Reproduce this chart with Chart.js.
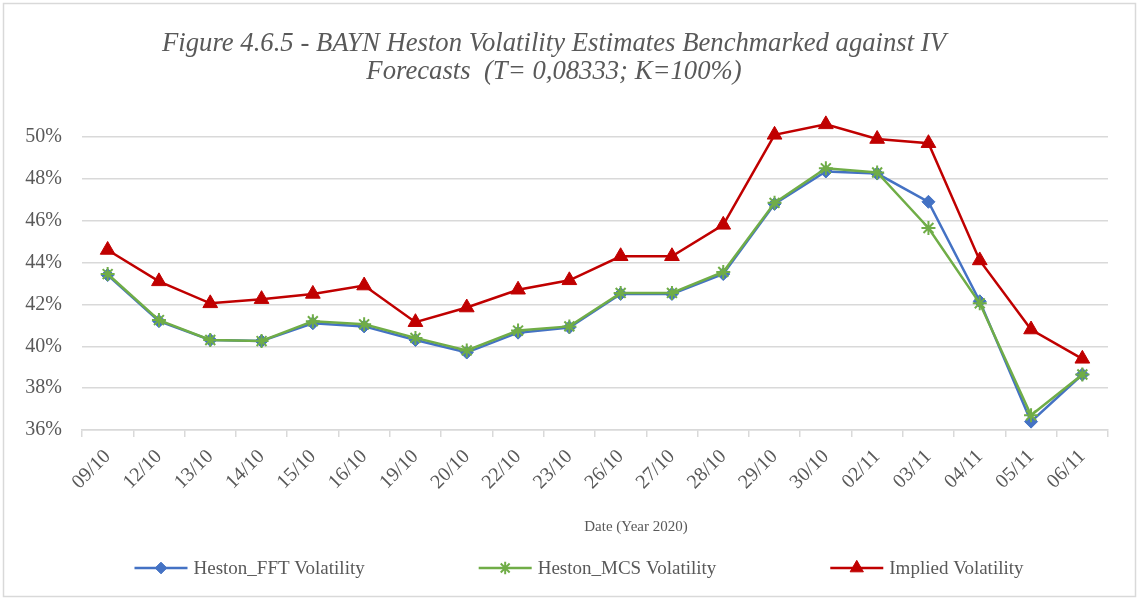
<!DOCTYPE html>
<html>
<head>
<meta charset="utf-8">
<script src="https://cdn.jsdelivr.net/npm/chart.js@4.4.1/dist/chart.umd.min.js"></script>
<style>
  html, body { margin: 0; padding: 0; background: #fff; }
  canvas { display: block; }
</style>
</head>
<body>
<canvas id="chart" width="1137" height="599"></canvas>
<script>
  // data (percent)
  var dates = ['09/10', '12/10', '13/10', '14/10', '15/10', '16/10', '19/10', '20/10', '22/10', '23/10',
               '26/10', '27/10', '28/10', '29/10', '30/10', '02/11', '03/11', '04/11', '05/11', '06/11'];
  var fftVol = [43.4, 41.2, 40.3, 40.25, 41.1, 40.95, 40.3, 39.7, 40.65, 40.9,
                42.5, 42.5, 43.45, 46.8, 48.35, 48.25, 46.9, 42.15, 36.4, 38.65];
  var mcsVol = [43.45, 41.25, 40.3, 40.25, 41.2, 41.05, 40.4, 39.8, 40.75, 40.95,
                42.55, 42.55, 43.55, 46.85, 48.5, 48.3, 45.65, 42.05, 36.7, 38.65];
  var impliedVol = [44.6, 43.1, 42.05, 42.25, 42.5, 42.9, 41.15, 41.85, 42.7, 43.15,
                    44.3, 44.3, 45.8, 50.1, 50.6, 49.9, 49.7, 44.1, 40.8, 39.4];
  var yTicks = [36, 38, 40, 42, 44, 46, 48, 50];
  var xTitle = 'Date (Year 2020)';

  var SERIF = "'Liberation Serif', 'Times New Roman', serif";
  var GREY = '#595959';
  var GRID = '#d9d9d9';

  // frame, x-axis title and legend drawn by hand to keep the Excel layout
  var excelBits = {
    id: 'excelBits',
    afterDraw: function (chart) {
      var ctx = chart.ctx;
      var sets = chart.data.datasets;
      ctx.save();

      ctx.strokeStyle = GRID;
      ctx.lineWidth = 1.5;
      ctx.strokeRect(3.5, 3.5, chart.width - 5, chart.height - 6);

      ctx.fillStyle = GREY;
      ctx.font = '15px ' + SERIF;
      ctx.textAlign = 'center';
      ctx.textBaseline = 'middle';
      ctx.fillText(xTitle, 636, 527);

      var gap = 114, seg = 53, textGap = 6;
      ctx.font = '19px ' + SERIF;
      var widths = sets.map(function (ds) { return seg + textGap + ctx.measureText(ds.label).width; });
      var total = widths.reduce(function (a, b) { return a + b; }, 0) + gap * (sets.length - 1);
      var x = 579 - total / 2;
      var y = 568;
      sets.forEach(function (ds, i) {
        ctx.strokeStyle = ds.borderColor;
        ctx.fillStyle = ds.borderColor;
        ctx.lineWidth = 2.5;
        ctx.beginPath();
        ctx.moveTo(x, y);
        ctx.lineTo(x + seg, y);
        ctx.stroke();
        ctx.lineWidth = ds.pointBorderWidth;
        Chart.helpers.drawPoint(ctx, {
          pointStyle: ds.pointStyle,
          radius: ds.pointRadius * 0.9,
          borderWidth: ds.pointBorderWidth,
          rotation: 0
        }, x + seg / 2, y);
        ctx.fillStyle = GREY;
        ctx.textAlign = 'left';
        ctx.fillText(ds.label, x + seg + textGap, y + 1);
        x += widths[i] + gap;
      });
      ctx.restore();
    }
  };

  function series(label, data, color, style, radius, order) {
    return {
      label: label,
      data: data,
      borderColor: color,
      backgroundColor: color,
      borderWidth: 2.5,
      pointStyle: style,
      pointRadius: radius,
      pointHoverRadius: radius,
      pointBackgroundColor: color,
      pointBorderColor: color,
      pointBorderWidth: style === 'star' ? 2 : 1,
      tension: 0,
      clip: false,
      order: order
    };
  }

  var chart = new Chart(document.getElementById('chart'), {
    type: 'line',
    data: {
      labels: dates,
      datasets: [
        series('Heston_FFT Volatility', fftVol, '#4472c4', 'rectRot', 6.5, 2),
        series('Heston_MCS Volatility', mcsVol, '#70ad47', 'star', 7, 1),
        series('Implied Volatility', impliedVol, '#c00000', 'triangle', 8.5, 0)
      ]
    },
    options: {
      responsive: false,
      animation: false,
      layout: { padding: { left: 0, right: 29, top: 0, bottom: 49 } },
      plugins: {
        legend: { display: false },
        tooltip: { enabled: false },
        title: {
          display: true,
          text: ['Figure 4.6.5 - BAYN Heston Volatility Estimates Benchmarked against IV',
                 'Forecasts  (T= 0,08333; K=100%)'],
          color: GREY,
          font: { family: SERIF, size: 26.7, style: 'italic', weight: 'normal', lineHeight: '28px' },
          padding: { top: 30, bottom: 30 }
        }
      },
      scales: {
        x: {
          offset: true,
          grid: { offset: true, drawOnChartArea: false, drawTicks: true, tickLength: 7, color: GRID, lineWidth: 1.5 },
          border: { color: GRID, width: 1.5 },
          ticks: {
            color: GREY,
            font: { family: SERIF, size: 20 },
            maxRotation: 45,
            minRotation: 45,
            autoSkip: false,
            padding: 8
          },
          afterFit: function (scale) { scale.height = 120; }
        },
        y: {
          // a little head-room above the top gridline so the 30/10 peak stays visible
          min: yTicks[0],
          max: 51,
          afterBuildTicks: function (scale) {
            scale.ticks = yTicks.map(function (v) { return { value: v }; });
          },
          grid: { color: GRID, lineWidth: 1.5, drawTicks: false },
          border: { display: false },
          ticks: {
            color: GREY,
            font: { family: SERIF, size: 20 },
            padding: 20,
            callback: function (v) { return v + '%'; }
          },
          afterFit: function (scale) { scale.width = 82; }
        }
      }
    },
    plugins: [excelBits]
  });
</script>
</body>
</html>
